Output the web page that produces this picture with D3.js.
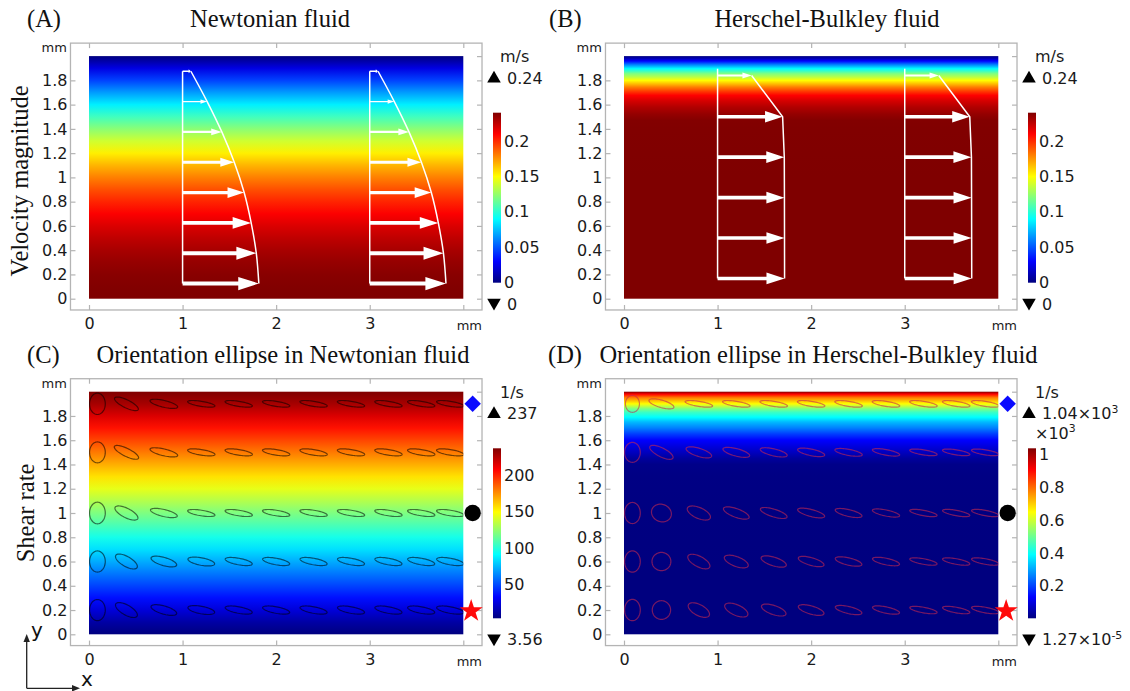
<!DOCTYPE html>
<html><head><meta charset="utf-8">
<script src="https://cdn.jsdelivr.net/npm/d3@7"></script>
<style>body{margin:0;background:#fff;} svg{display:block;}</style>
</head><body><svg id="chart" width="1130" height="691"></svg>
<script>
// ---------------- DATA ----------------
const panelLetters = ["(A)", "(B)", "(C)", "(D)"];
const panelTitles = ["Newtonian fluid", "Herschel-Bulkley fluid",
  "Orientation ellipse in Newtonian fluid", "Orientation ellipse in Herschel-Bulkley fluid"];
const rowLabels = ["Velocity magnitude", "Shear rate"];
const xTicks = [0, 1, 2, 3, 4];
const xTickLabels = ["0", "1", "2", "3", ""];
const yTicks = [0, 0.2, 0.4, 0.6, 0.8, 1, 1.2, 1.4, 1.6, 1.8];
const yFrameTicks = [0, 0.2, 0.4, 0.6, 0.8, 1, 1.2, 1.4, 1.6, 1.8, 2];

// velocity magnitude (m/s) across the channel height (mm)
const velNewtY = [0, 0.1, 0.2, 0.3, 0.4, 0.5, 0.6, 0.7, 0.8, 0.9, 1.0, 1.1, 1.2, 1.3, 1.4, 1.5, 1.6, 1.7, 1.8, 1.9, 2.0];
const velNewt  = [0.240, 0.2394, 0.2376, 0.2346, 0.2304, 0.225, 0.2184, 0.2106, 0.2016, 0.1914, 0.180, 0.1674, 0.1536, 0.1386, 0.1224, 0.105, 0.0864, 0.0666, 0.0456, 0.0234, 0];
const velHBY = [0, 0.5, 1.0, 1.4, 1.47, 1.52, 1.58, 1.63, 1.676, 1.71, 1.745, 1.77, 1.80, 1.83, 1.855, 1.875, 1.896, 1.93, 1.96, 1.98, 2.0];
const velHB  = [0.24, 0.24, 0.2399, 0.2395, 0.239, 0.235, 0.228, 0.22, 0.21, 0.196, 0.18, 0.166, 0.15, 0.132, 0.12, 0.105, 0.09, 0.06, 0.03, 0.013, 0];
const velRange = [0, 0.24];
const velBarTicks = [0, 0.05, 0.1, 0.15, 0.2];

// velocity arrows (profiles at x = 1 mm and x = 3 mm)
const profileX = [1, 3];
const arrowNewtY = [0.125, 0.375, 0.625, 0.875, 1.125, 1.375, 1.625, 1.875];
const arrowNewtV = [0.239, 0.231, 0.215, 0.193, 0.162, 0.123, 0.077, 0.026];
const arrowHBY = [0.167, 0.5, 0.833, 1.167, 1.5, 1.84];
const arrowHBV = [0.24, 0.2398, 0.2395, 0.239, 0.233, 0.122];
const profileTop = [1.875, 1.896];

// shear rate (1/s)
const shearNewtY = [0, 0.1, 0.2, 0.3, 0.4, 0.5, 0.6, 0.7, 0.8, 0.9, 1.0, 1.1, 1.2, 1.3, 1.4, 1.5, 1.6, 1.7, 1.8, 1.9, 2.0];
const shearNewt  = [3.56, 12, 24, 36, 48, 60, 72, 84, 96, 108, 120, 132, 144, 156, 168, 180, 192, 204, 216, 228, 237];
const shearHBY = [0, 0.5, 1.0, 1.3, 1.4, 1.45, 1.5, 1.55, 1.6, 1.65, 1.7, 1.75, 1.79, 1.83, 1.86, 1.88, 1.9, 1.925, 1.95, 1.98, 2.0];
const shearHB  = [0.0000127, 0.5, 2, 5, 10, 30, 65, 95, 130, 190, 260, 320, 390, 450, 520, 585, 650, 715, 780, 910, 1040];
const shearNewtRange = [3.56, 237];
const shearHBRange = [0.0000127, 1040];
const shearNewtBarTicks = [50, 100, 150, 200];
const shearHBBarTicks = [0.2, 0.4, 0.6, 0.8, 1];

// point markers
const markerY = [1.9, 1.0, 0.2];
const markerKind = ["diamond", "circle", "star"];
const markerColor = ["#0a0aff", "#000000", "#ff0a0a"];

// orientation ellipses: [semi-axis a (mm), semi-axis b (mm), angle (deg)]
const ellX = [0.09, 0.4, 0.8, 1.2, 1.6, 2.0, 2.4, 2.8, 3.2, 3.55, 3.86];
const ellY = [1.9, 1.5, 1.0, 0.6, 0.2];
const ellNewt = [
  [[0.084,0.088,0],[0.135,0.034,-20],[0.15,0.028,-10],[0.147,0.021,-7],[0.147,0.021,-7],[0.147,0.021,-7],[0.147,0.021,-7],[0.147,0.021,-7],[0.147,0.021,-7],[0.147,0.021,-7],[0.147,0.021,-7]],
  [[0.084,0.086,0],[0.138,0.034,-20],[0.15,0.028,-10],[0.147,0.023,-7],[0.147,0.023,-7],[0.147,0.023,-7],[0.147,0.023,-7],[0.147,0.023,-7],[0.147,0.023,-7],[0.147,0.023,-7],[0.147,0.023,-7]],
  [[0.084,0.089,0],[0.13,0.04,-20],[0.145,0.029,-10],[0.147,0.023,-7],[0.147,0.023,-7],[0.147,0.023,-7],[0.147,0.023,-7],[0.147,0.023,-7],[0.147,0.023,-7],[0.147,0.023,-7],[0.147,0.023,-7]],
  [[0.084,0.087,0],[0.125,0.043,-22],[0.14,0.034,-12],[0.144,0.031,-8],[0.146,0.027,-8],[0.146,0.027,-8],[0.146,0.027,-8],[0.146,0.027,-8],[0.146,0.027,-8],[0.146,0.027,-8],[0.146,0.027,-8]],
  [[0.084,0.087,0],[0.125,0.043,-22],[0.14,0.034,-12],[0.144,0.031,-8],[0.146,0.027,-8],[0.146,0.027,-8],[0.146,0.027,-8],[0.146,0.027,-8],[0.146,0.027,-8],[0.146,0.027,-8],[0.146,0.027,-8]]
];
const ellHB = [
  [[0.075,0.07,0],[0.136,0.031,-12],[0.148,0.021,-7],[0.148,0.021,-7],[0.148,0.021,-7],[0.148,0.021,-7],[0.148,0.021,-7],[0.148,0.021,-7],[0.148,0.021,-7],[0.148,0.021,-7],[0.148,0.021,-7]],
  [[0.084,0.082,0],[0.132,0.038,-20],[0.14,0.034,-13],[0.145,0.031,-11],[0.146,0.029,-10],[0.146,0.027,-9],[0.147,0.025,-8],[0.147,0.023,-8],[0.147,0.021,-7],[0.147,0.021,-7],[0.147,0.021,-7]],
  [[0.084,0.087,0],[0.107,0.072,-8],[0.129,0.046,-17],[0.142,0.036,-15],[0.146,0.032,-13],[0.147,0.029,-11],[0.145,0.028,-10],[0.147,0.025,-9],[0.147,0.022,-8],[0.147,0.022,-8],[0.147,0.022,-8]],
  [[0.084,0.088,0],[0.101,0.075,0],[0.125,0.045,-20],[0.132,0.041,-15],[0.138,0.036,-13],[0.14,0.032,-12],[0.144,0.03,-10],[0.146,0.027,-9],[0.147,0.023,-8],[0.147,0.023,-8],[0.147,0.023,-8]],
  [[0.084,0.088,0],[0.098,0.077,0],[0.12,0.047,-20],[0.129,0.045,-17],[0.135,0.038,-14],[0.14,0.034,-12],[0.144,0.029,-10],[0.146,0.026,-9],[0.147,0.023,-8],[0.147,0.023,-8],[0.147,0.023,-8]]
];

// ---------------- RENDER ----------------
const SANS = "DejaVu Sans, sans-serif";
const SERIF = "Liberation Serif, Times New Roman, serif";
const FS = 16;
const svg = d3.select("#chart");
const defs = svg.append("defs");
const jetStops = [0, 0.125, 0.375, 0.625, 0.875, 1];
const jetColors = ["#00007f", "#0000ff", "#00ffff", "#ffff00", "#ff0000", "#7f0000"];
const jet = (lo, hi) => d3.scaleLinear().domain(jetStops.map(f => lo + f * (hi - lo))).range(jetColors).clamp(true);

const DW = 374.3, DH = 242.6;
const panels = [
  {k: 0, x0: 89,  yb: 298.7, fy: velNewtY, fv: velNewt, range: velRange, bar: velBarTicks, unit: "m/s",
   maxLab: "0.24", minLab: "0", arrows: [arrowNewtY, arrowNewtV], aScale: 3.41, curve: d3.curveMonotoneY, top: profileTop[0], titleX: 270, letterX: 27},
  {k: 1, x0: 624, yb: 298.7, fy: velHBY, fv: velHB, range: velRange, bar: velBarTicks, unit: "m/s",
   maxLab: "0.24", minLab: "0", arrows: [arrowHBY, arrowHBV], aScale: 2.983, curve: d3.curveLinear, top: profileTop[1], titleX: 827, letterX: 549},
  {k: 2, x0: 89,  yb: 634.3, fy: shearNewtY, fv: shearNewt, range: shearNewtRange, bar: shearNewtBarTicks, unit: "1/s",
   maxLab: "237", minLab: "3.56", ell: ellNewt, ellStroke: "#000", ellOp: 0.55, titleX: 283, letterX: 27},
  {k: 3, x0: 624, yb: 634.3, fy: shearHBY, fv: shearHB, range: shearHBRange, bar: shearHBBarTicks, unit: "1/s",
   maxLab: "1.04×10|3", minLab: "1.27×10|-5", scaleLab: true, ell: ellHB, ellStroke: "#c8284e", ellOp: 0.6, titleX: 818.5, letterX: 548}
];

function supText(sel, str, size) {
  const parts = str.split("|");
  sel.append("tspan").text(parts[0]);
  if (parts[1]) sel.append("tspan").attr("dy", -6.5).attr("font-size", size * 0.68).text(parts[1]);
}

panels.forEach(p => {
  const g = svg.append("g");
  const x = d3.scaleLinear([0, 4], [p.x0, p.x0 + DW]);
  const y = d3.scaleLinear([0, 2], [p.yb, p.yb - DH]);
  const color = jet(p.range[0], p.range[1]);
  const fL = x(-0.198), fR = x(4.2), fT = y(2.107), fB = y(-0.093);

  // title and letter
  const tb = p.k < 2 ? 27 : 363;
  g.append("text").attr("x", p.letterX).attr("y", tb).attr("font-family", SERIF).attr("font-size", 24.5)
    .attr("fill", "#111").text(panelLetters[p.k]);
  g.append("text").attr("x", p.titleX).attr("y", tb).attr("text-anchor", "middle").attr("font-family", SERIF)
    .attr("font-size", 24.5).attr("fill", "#111").text(panelTitles[p.k]);
  if (p.k === 0 || p.k === 2) {
    const cy = p.k === 0 ? 181 : 513;
    const bx = p.k === 0 ? 28 : 34;
    g.append("text").attr("transform", `translate(${bx},${cy}) rotate(-90)`).attr("text-anchor", "middle")
      .attr("font-family", SERIF).attr("font-size", 24.5).attr("fill", "#111").text(rowLabels[p.k / 2]);
  }

  // field
  const gid = "field" + p.k;
  const grad = defs.append("linearGradient").attr("id", gid).attr("gradientUnits", "userSpaceOnUse")
    .attr("x1", 0).attr("x2", 0).attr("y1", y(0)).attr("y2", y(2));
  p.fy.forEach((yy, i) => grad.append("stop").attr("offset", yy / 2).attr("stop-color", color(p.fv[i])));
  g.append("rect").attr("x", x(0)).attr("y", y(2)).attr("width", x(4) - x(0)).attr("height", y(0) - y(2))
    .attr("fill", `url(#${gid})`);

  // frame + axes
  g.append("rect").attr("x", fL).attr("y", fT).attr("width", fR - fL).attr("height", fB - fT)
    .attr("fill", "none").attr("stroke", "#b4b4b4").attr("stroke-width", 1.3);
  const styleAxis = a => {
    a.select(".domain").remove();
    a.selectAll("line").attr("stroke", "#b4b4b4").attr("stroke-width", 1.2);
    a.selectAll("text").attr("font-family", SANS).attr("font-size", FS).attr("fill", "#1a1a1a");
  };
  g.append("g").attr("transform", `translate(${fL},0)`)
    .call(d3.axisLeft(y).tickValues(yTicks).tickSize(-5).tickPadding(3).tickFormat(d3.format("~g"))).call(styleAxis);
  g.append("g").attr("transform", `translate(${fR},0)`)
    .call(d3.axisRight(y).tickValues(yFrameTicks).tickSize(-5).tickFormat("")).call(styleAxis);
  g.append("g").attr("transform", `translate(0,${fB})`)
    .call(d3.axisBottom(x).tickValues(xTicks).tickSize(-5).tickPadding(8).tickFormat((d, i) => xTickLabels[i])).call(styleAxis);
  g.append("g").attr("transform", `translate(0,${fT})`)
    .call(d3.axisTop(x).tickValues(xTicks).tickSize(-5).tickFormat("")).call(styleAxis);
  g.append("text").attr("x", fL - 29).attr("y", fT + 9).attr("font-family", SANS).attr("font-size", 13)
    .attr("fill", "#1a1a1a").text("mm");
  g.append("text").attr("x", fR).attr("y", fB + 20).attr("text-anchor", "end").attr("font-family", SANS)
    .attr("font-size", 13).attr("fill", "#1a1a1a").text("mm");

  // arrows
  if (p.arrows) {
    const [ay, av] = p.arrows;
    profileX.forEach(bx => {
      g.append("line").attr("x1", x(bx)).attr("x2", x(bx)).attr("y1", y(ay[0])).attr("y2", y(p.top))
        .attr("stroke", "#fff").attr("stroke-width", 1.5);
      const pts = ay.map((yy, i) => [x(bx + av[i] * p.aScale), y(yy)]);
      g.append("path").attr("d", d3.line().curve(p.curve)(pts)).attr("fill", "none")
        .attr("stroke", "#fff").attr("stroke-width", 1.5);
      ay.forEach((yy, i) => {
        const x1 = x(bx), x2 = x(bx + av[i] * p.aScale), yc = y(yy);
        const L = x2 - x1, hw = Math.max(0.7, 0.027 * L), hl = 0.27 * L, hh = Math.max(2, 0.087 * L);
        const d = `M${x1},${yc - hw}L${x2 - hl},${yc - hw}L${x2 - hl},${yc - hh}L${x2},${yc}L${x2 - hl},${yc + hh}L${x2 - hl},${yc + hw}L${x1},${yc + hw}Z`;
        g.append("path").attr("d", d).attr("fill", "#fff");
      });
    });
  }

  // ellipses
  if (p.ell) {
    const cid = "clip" + p.k;
    defs.append("clipPath").attr("id", cid).append("rect").attr("x", x(0)).attr("y", y(2))
      .attr("width", x(4) - x(0)).attr("height", y(0) - y(2));
    const eg = g.append("g").attr("clip-path", `url(#${cid})`);
    const ts = d3.range(0, 2 * Math.PI, Math.PI / 30);
    p.ell.forEach((row, r) => row.forEach((e, c) => {
      const [a, b, ang] = e, th = ang * Math.PI / 180;
      const pts = ts.map(t => [x(ellX[c] + a * Math.cos(t) * Math.cos(th) - b * Math.sin(t) * Math.sin(th)),
                              y(ellY[r] + a * Math.cos(t) * Math.sin(th) + b * Math.sin(t) * Math.cos(th))]);
      eg.append("path").attr("d", d3.line().curve(d3.curveLinearClosed)(pts)).attr("fill", "none")
        .attr("stroke", p.ellStroke).attr("stroke-opacity", p.ellOp).attr("stroke-width", 1.2);
    }));
    // markers
    markerY.forEach((my, i) => {
      const kind = markerKind[i];
      const sym = kind === "diamond" ? d3.symbolSquare : kind === "circle" ? d3.symbolCircle : d3.symbolStar;
      const size = kind === "diamond" ? 135 : kind === "circle" ? 210 : 165;
      const rot = kind === "diamond" ? 45 : 0;
      g.append("path").attr("d", d3.symbol(sym, size)())
        .attr("transform", `translate(${x(4.1) - (kind === "star" ? 1.5 : 0)},${y(my) + (kind === "star" ? 1 : 0)}) rotate(${rot})`)
        .attr("fill", markerColor[i]);
    });
  }

  // colorbar
  const bx0 = p.x0 + DW + 29.7, bT = y(2) + 56.6, bB = y(0) - 16;
  const cg = "cbar" + p.k;
  const cgr = defs.append("linearGradient").attr("id", cg).attr("x1", 0).attr("x2", 0).attr("y1", 1).attr("y2", 0);
  jetStops.forEach((s, i) => cgr.append("stop").attr("offset", s).attr("stop-color", jetColors[i]));
  g.append("rect").attr("x", bx0).attr("y", bT).attr("width", 8).attr("height", bB - bT).attr("fill", `url(#${cg})`);
  const div = p.scaleLab ? 1000 : 1;
  const cb = d3.scaleLinear([p.range[0] / div, p.range[1] / div], [bB, bT]);
  g.append("g").attr("transform", `translate(${bx0 + 8},0)`)
    .call(d3.axisRight(cb).tickValues(p.bar).tickSize(0).tickPadding(3).tickFormat(d3.format("~g"))).call(styleAxis);
  g.append("text").attr("x", bx0 + 7).attr("y", y(2) + 6).attr("font-family", SANS).attr("font-size", FS)
    .attr("fill", "#1a1a1a").text(p.unit);
  const tri = d3.symbol(d3.symbolTriangle, 80)();
  const yMax = y(2) + 21.5, yMin = y(0) + 5;
  g.append("path").attr("d", tri).attr("transform", `translate(${bx0 + 1},${yMax + 1})`).attr("fill", "#000");
  g.append("path").attr("d", tri).attr("transform", `translate(${bx0 + 1},${yMin - 1}) rotate(180)`).attr("fill", "#000");
  const tMax = g.append("text").attr("x", bx0 + 14).attr("y", yMax + 6).attr("font-family", SANS).attr("font-size", FS).attr("fill", "#1a1a1a");
  supText(tMax, p.maxLab, FS);
  const tMin = g.append("text").attr("x", bx0 + 14).attr("y", yMin + 6).attr("font-family", SANS).attr("font-size", FS).attr("fill", "#1a1a1a");
  supText(tMin, p.minLab, FS);
  if (p.scaleLab) {
    const ts = g.append("text").attr("x", bx0 + 7).attr("y", y(2) + 47).attr("font-family", SANS).attr("font-size", FS).attr("fill", "#1a1a1a");
    supText(ts, "×10|3", FS);
  }
});

// coordinate glyph
const ag = svg.append("g").attr("stroke", "#222").attr("stroke-width", 1.3).attr("fill", "none");
ag.append("path").attr("d", "M26.7,688.3L26.7,639M26.7,688.3L75,688.3");
svg.append("path").attr("d", "M26.7,634L23.5,642L29.9,642Z").attr("fill", "#222");
svg.append("path").attr("d", "M80,688.3L72,685.1L72,691.5Z").attr("fill", "#222");
svg.append("text").attr("x", 31).attr("y", 637).attr("font-family", SANS).attr("font-size", 20).attr("fill", "#111").text("y");
svg.append("text").attr("x", 81).attr("y", 686).attr("font-family", SANS).attr("font-size", 20).attr("fill", "#111").text("x");
</script></body></html>
